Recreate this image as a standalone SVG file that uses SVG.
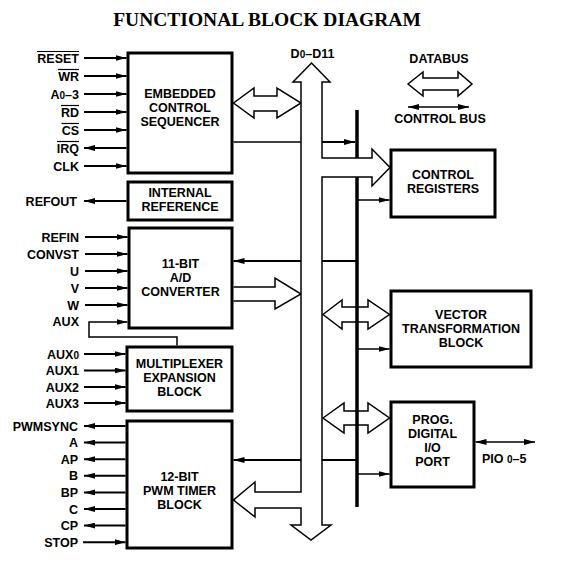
<svg xmlns="http://www.w3.org/2000/svg" width="566" height="570" viewBox="0 0 566 570">
<defs>
<marker id="ah" viewBox="0 0 11 6" refX="11" refY="3" markerWidth="11" markerHeight="6" markerUnits="userSpaceOnUse" orient="auto-start-reverse">
<path d="M0,0 L11,3 L0,6 Z" fill="#000"/>
</marker>
</defs>
<style>
.t{font-family:"Liberation Sans",Arial,Helvetica,sans-serif;font-weight:bold;font-size:12.5px;fill:#000}
.lbl{text-anchor:end}
.c{text-anchor:middle}
.box{fill:#fff;stroke:#000;stroke-width:3}
.sig{stroke:#000;stroke-width:2;fill:none}
.thin{stroke:#000;stroke-width:1.5;fill:none}
.bus{fill:#fff;stroke:#000;stroke-width:1.5;stroke-linejoin:miter}
.ov{stroke:#000;stroke-width:1.2}
.s{font-size:10px}
</style>
<rect width="566" height="570" fill="#fff"/>
<text x="267" y="26" text-anchor="middle" font-family="'Liberation Serif','Times New Roman',serif" font-weight="bold" font-size="19.5">FUNCTIONAL BLOCK DIAGRAM</text>

<g id="connectors">
<!-- ECS inputs -->
<line class="sig" x1="84" y1="58" x2="126.5" y2="58" marker-end="url(#ah)"/>
<line class="sig" x1="84" y1="76" x2="126.5" y2="76" marker-end="url(#ah)"/>
<line class="sig" x1="84" y1="94" x2="126.5" y2="94" marker-end="url(#ah)"/>
<line class="sig" x1="84" y1="112" x2="126.5" y2="112" marker-end="url(#ah)"/>
<line class="sig" x1="84" y1="130" x2="126.5" y2="130" marker-end="url(#ah)"/>
<line class="sig" x1="126.5" y1="148" x2="84" y2="148" marker-end="url(#ah)"/>
<line class="sig" x1="84" y1="166" x2="126.5" y2="166" marker-end="url(#ah)"/>
<!-- REFOUT -->
<line class="sig" x1="126.5" y1="201" x2="84" y2="201" marker-end="url(#ah)"/>
<!-- ADC inputs -->
<line class="sig" x1="85" y1="237" x2="127.5" y2="237" marker-end="url(#ah)"/>
<line class="sig" x1="85" y1="254" x2="127.5" y2="254" marker-end="url(#ah)"/>
<line class="sig" x1="85" y1="271" x2="127.5" y2="271" marker-end="url(#ah)"/>
<line class="sig" x1="85" y1="288" x2="127.5" y2="288" marker-end="url(#ah)"/>
<line class="sig" x1="85" y1="305" x2="127.5" y2="305" marker-end="url(#ah)"/>
<path class="thin" d="M177,345.5 V337 H89 V322 H127.5" marker-end="url(#ah)"/>
<!-- MUX inputs -->
<line class="sig" x1="84" y1="354" x2="125.5" y2="354" marker-end="url(#ah)"/>
<line class="sig" x1="84" y1="370.5" x2="125.5" y2="370.5" marker-end="url(#ah)"/>
<line class="sig" x1="84" y1="387" x2="125.5" y2="387" marker-end="url(#ah)"/>
<line class="sig" x1="84" y1="403" x2="125.5" y2="403" marker-end="url(#ah)"/>
<!-- PWM outputs -->
<line class="sig" x1="125.5" y1="426" x2="84" y2="426" marker-end="url(#ah)"/>
<line class="sig" x1="125.5" y1="442.6" x2="84" y2="442.6" marker-end="url(#ah)"/>
<line class="sig" x1="125.5" y1="459.2" x2="84" y2="459.2" marker-end="url(#ah)"/>
<line class="sig" x1="125.5" y1="475.8" x2="84" y2="475.8" marker-end="url(#ah)"/>
<line class="sig" x1="125.5" y1="492.4" x2="84" y2="492.4" marker-end="url(#ah)"/>
<line class="sig" x1="125.5" y1="509" x2="84" y2="509" marker-end="url(#ah)"/>
<line class="sig" x1="125.5" y1="525.6" x2="84" y2="525.6" marker-end="url(#ah)"/>
<line class="sig" x1="83" y1="542.2" x2="125.5" y2="542.2" marker-end="url(#ah)"/>

<!-- control bus lines -->
<line class="thin" x1="233.5" y1="142" x2="301" y2="142"/>
<line class="sig" x1="322" y1="142" x2="355" y2="142" marker-end="url(#ah)"/>
<line class="sig" x1="357" y1="261" x2="322" y2="261"/>
<line class="sig" x1="301" y1="261" x2="233.5" y2="261" marker-end="url(#ah)"/>
<line class="sig" x1="357" y1="460" x2="322" y2="460"/>
<line class="sig" x1="301" y1="460" x2="233.5" y2="460" marker-end="url(#ah)"/>
<line class="thin" x1="357" y1="200" x2="389.5" y2="200" marker-end="url(#ah)"/>
<line class="thin" x1="357" y1="349" x2="389.5" y2="349" marker-end="url(#ah)"/>
<line class="thin" x1="357" y1="474" x2="389.5" y2="474" marker-end="url(#ah)"/>

<!-- data bus double arrows -->
<path class="bus" d="M233.5,103 L254,88 V96 H277 V88 L301,103 L277,118 V111 H254 V118 Z"/>
<path class="bus" d="M233.5,287 H275 V278 L301,294 L275,309 V301 H233.5"/>
<path class="bus" d="M323,314.5 L342,300 V307 H368 V300 L389.5,314.5 L368,329 V322 H342 V329 Z"/>
<path class="bus" d="M323,418 L344,403 V411 H368 V403 L389.5,418 L368,433 V425 H344 V433 Z"/>

<!-- thick control bus -->
<line x1="357" y1="110" x2="357" y2="507" stroke="#000" stroke-width="3.5"/>

<!-- main data bus D0-D11 -->
<path class="bus" d="M301,82 H293 L311.5,63 L330,82 H322 V158 H372 V149 L390,167.5 L372,186 V177 H322 V525 H331 L311,540 L291,525 H301 V508 H255 V517 L233.5,500 L255,482 V492 H301 Z"/>

<!-- PIO line -->
<line class="thin" x1="475.5" y1="442" x2="535" y2="442" marker-start="url(#ah)" marker-end="url(#ah)"/>

<!-- legend -->
<path class="bus" d="M408,84 L423,72 V78 H458 V72 L472,84 L458,96 V90 H423 V96 Z"/>
<line class="thin" x1="408" y1="107" x2="469" y2="107" marker-start="url(#ah)" marker-end="url(#ah)"/>
</g>

<g id="ecs">
<rect class="box" x="128" y="53" width="104" height="120"/>
<text class="t c" x="180" y="98">EMBEDDED</text>
<text class="t c" x="180" y="112">CONTROL</text>
<text class="t c" x="180" y="126">SEQUENCER</text>
</g>
<g id="intref">
<rect class="box" x="128" y="182" width="104" height="38"/>
<text class="t c" x="180" y="197">INTERNAL</text>
<text class="t c" x="180" y="211">REFERENCE</text>
</g>
<g id="adc">
<rect class="box" x="129" y="228" width="103" height="100"/>
<text class="t c" x="180.5" y="268">11-BIT</text>
<text class="t c" x="180.5" y="282">A/D</text>
<text class="t c" x="180.5" y="296">CONVERTER</text>
</g>
<g id="mux">
<rect class="box" x="127" y="347" width="105" height="64"/>
<text class="t c" x="179.5" y="368">MULTIPLEXER</text>
<text class="t c" x="179.5" y="382">EXPANSION</text>
<text class="t c" x="179.5" y="396">BLOCK</text>
</g>
<g id="pwm">
<rect class="box" x="127" y="421" width="105" height="127"/>
<text class="t c" x="179.5" y="481">12-BIT</text>
<text class="t c" x="179.5" y="495">PWM TIMER</text>
<text class="t c" x="179.5" y="509">BLOCK</text>
</g>
<g id="ctrlreg">
<rect class="box" x="391" y="150" width="104" height="67"/>
<text class="t c" x="443" y="179">CONTROL</text>
<text class="t c" x="443" y="193">REGISTERS</text>
</g>
<g id="vtb">
<rect class="box" x="391" y="291" width="140" height="76"/>
<text class="t c" x="461" y="319">VECTOR</text>
<text class="t c" x="461" y="333">TRANSFORMATION</text>
<text class="t c" x="461" y="347">BLOCK</text>
</g>
<g id="pio">
<rect class="box" x="391" y="402" width="83" height="85"/>
<text class="t c" x="432.5" y="424">PROG.</text>
<text class="t c" x="432.5" y="438">DIGITAL</text>
<text class="t c" x="432.5" y="452">I/O</text>
<text class="t c" x="432.5" y="466">PORT</text>
</g>

<g id="labels">
<text class="t lbl" x="79" y="62.5">RESET</text>
<line class="ov" x1="37" y1="51.5" x2="79" y2="51.5"/>
<text class="t lbl" x="79" y="80.5">WR</text>
<line class="ov" x1="58" y1="69.5" x2="79" y2="69.5"/>
<text class="t lbl" x="79" y="98.5">A<tspan class="s">0</tspan>–3</text>
<text class="t lbl" x="79" y="116.5">RD</text>
<line class="ov" x1="61" y1="105.5" x2="79" y2="105.5"/>
<text class="t lbl" x="79" y="134.5">CS</text>
<line class="ov" x1="61.5" y1="123.5" x2="79" y2="123.5"/>
<text class="t lbl" x="79" y="152.5">IRQ</text>
<line class="ov" x1="57" y1="141.5" x2="79" y2="141.5"/>
<text class="t lbl" x="79" y="170.5">CLK</text>
<text class="t lbl" x="77" y="205.5">REFOUT</text>
<text class="t lbl" x="79" y="241.5">REFIN</text>
<text class="t lbl" x="79" y="258.5">CONVST</text>
<text class="t lbl" x="79" y="275.5">U</text>
<text class="t lbl" x="79" y="292.5">V</text>
<text class="t lbl" x="79" y="309.5">W</text>
<text class="t lbl" x="79" y="326">AUX</text>
<text class="t lbl" x="79" y="358.5">AUX<tspan class="s">0</tspan></text>
<text class="t lbl" x="79" y="375">AUX1</text>
<text class="t lbl" x="79" y="391.5">AUX2</text>
<text class="t lbl" x="79" y="407.5">AUX3</text>
<text class="t lbl" x="78" y="430.5">PWMSYNC</text>
<text class="t lbl" x="78" y="447">A</text>
<text class="t lbl" x="78" y="463.5">AP</text>
<text class="t lbl" x="78" y="480">B</text>
<text class="t lbl" x="78" y="497">BP</text>
<text class="t lbl" x="78" y="513.5">C</text>
<text class="t lbl" x="78" y="530">CP</text>
<text class="t lbl" x="78" y="546.5">STOP</text>
<text class="t c" x="312.5" y="58">D<tspan class="s">0</tspan>–D11</text>
<text class="t c" x="439" y="63">DATABUS</text>
<text class="t c" x="440" y="123">CONTROL BUS</text>
<text class="t" x="482" y="463">PIO <tspan class="s">0</tspan>–5</text>
</g>
</svg>
